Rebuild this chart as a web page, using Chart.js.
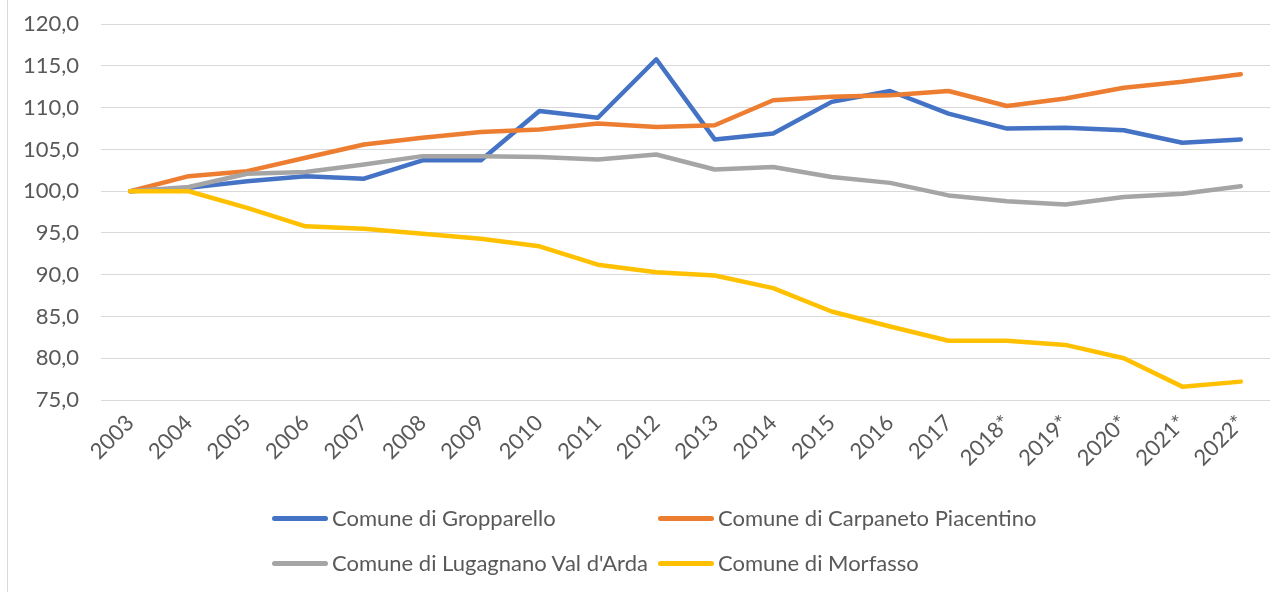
<!DOCTYPE html>
<html>
<head>
<meta charset="utf-8">
<script src="https://cdn.jsdelivr.net/npm/chart.js@4"></script>
<style>
  body { margin: 0; background: #fff; font-family: Lato, sans-serif; overflow: hidden; }
  #wrap { position: relative; width: 1277px; height: 592px; overflow: hidden; }
  #chart { position: absolute; left: 0; top: -11px; }
  #frame { position: absolute; left: 7px; top: 0; width: 1px; height: 592px; background: #d9d9d9; }
  #legend { position: absolute; left: 0; top: 0; width: 1277px; height: 592px; pointer-events: none; }
  .item { position: absolute; display: flex; align-items: center; color: #595959; font-size: 22px; line-height: 28px; white-space: nowrap; }
  .item span.swatch { display: inline-block; width: 56px; height: 5px; border-radius: 3px; margin-right: 4px; }
</style>
</head>
<body>
<div id="wrap">
  <canvas id="chart" width="1277" height="491"></canvas>
  <div id="frame"></div>
  <div id="legend"></div>
</div>
<script>
const years = ['2003','2004','2005','2006','2007','2008','2009','2010','2011','2012',
               '2013','2014','2015','2016','2017','2018*','2019*','2020*','2021*','2022*'];

const gropparello = [100.0, 100.4, 101.2, 101.8, 101.5, 103.7, 103.7, 109.6, 108.8, 115.8,
                     106.2, 106.9, 110.7, 112.0, 109.3, 107.5, 107.6, 107.3, 105.8, 106.2];
const carpaneto   = [100.0, 101.8, 102.4, 104.0, 105.6, 106.4, 107.1, 107.4, 108.1, 107.7,
                     107.9, 110.9, 111.3, 111.5, 112.0, 110.2, 111.1, 112.4, 113.1, 114.0];
const lugagnano   = [100.0, 100.5, 102.1, 102.3, 103.2, 104.2, 104.2, 104.1, 103.8, 104.4,
                     102.6, 102.9, 101.7, 101.0, 99.5, 98.8, 98.4, 99.3, 99.7, 100.6];
const morfasso    = [100.0, 100.0, 98.0, 95.8, 95.5, 94.9, 94.3, 93.4, 91.2, 90.3,
                     89.9, 88.4, 85.6, 83.8, 82.1, 82.1, 81.6, 80.0, 76.6, 77.2];

const seriesNames = ['Comune di Gropparello', 'Comune di Carpaneto Piacentino',
                     "Comune di Lugagnano Val d'Arda", 'Comune di Morfasso'];
const seriesColors = ['#4472C4', '#ED7D31', '#A5A5A5', '#FFC000'];
const seriesData = [gropparello, carpaneto, lugagnano, morfasso];

const yMin = 75, yMax = 120, yStep = 5;

const datasets = seriesData.map((d, i) => ({
    label: seriesNames[i],
    data: d,
    borderColor: seriesColors[i],
    backgroundColor: seriesColors[i],
    borderWidth: 4.5,
    pointRadius: 0,
    tension: 0,
    borderCapStyle: 'round',
    borderJoinStyle: 'round',
    order: seriesData.length - i   // later series on top, like the original
}));

new Chart(document.getElementById('chart'), {
    type: 'line',
    data: { labels: years, datasets: datasets },
    options: {
        responsive: false,
        animation: false,
        layout: { padding: { top: 2, right: 7, left: 0, bottom: 0 } },
        plugins: { legend: { display: false }, tooltip: { enabled: false } },
        scales: {
            x: {
                offset: true,
                grid: { display: false },
                border: { display: false },
                ticks: {
                    color: '#595959',
                    font: { family: 'Lato', size: 22 },
                    minRotation: 45,
                    maxRotation: 45,
                    padding: 2
                },
                afterFit: (scale) => { scale.height = 80; }
            },
            y: {
                min: yMin,
                max: yMax,
                grid: { color: '#d9d9d9', lineWidth: 1, drawTicks: false },
                border: { display: false },
                ticks: {
                    stepSize: yStep,
                    color: '#595959',
                    font: { family: 'Lato', size: 22 },
                    padding: 22,
                    callback: (v) => v.toFixed(1).replace('.', ',')
                },
                afterFit: (scale) => { scale.width = 101; }
            }
        }
    }
});

// legend laid out in two columns like the original
const legendPos = [[272, 518], [658, 518], [272, 563], [658, 563]];
const legend = document.getElementById('legend');
seriesNames.forEach((name, i) => {
    const el = document.createElement('div');
    el.className = 'item';
    el.style.left = legendPos[i][0] + 'px';
    el.style.top = (legendPos[i][1] - 14) + 'px';
    el.innerHTML = '<span class="swatch" style="background:' + seriesColors[i] + '"></span>' + name;
    legend.appendChild(el);
});
</script>
</body>
</html>
